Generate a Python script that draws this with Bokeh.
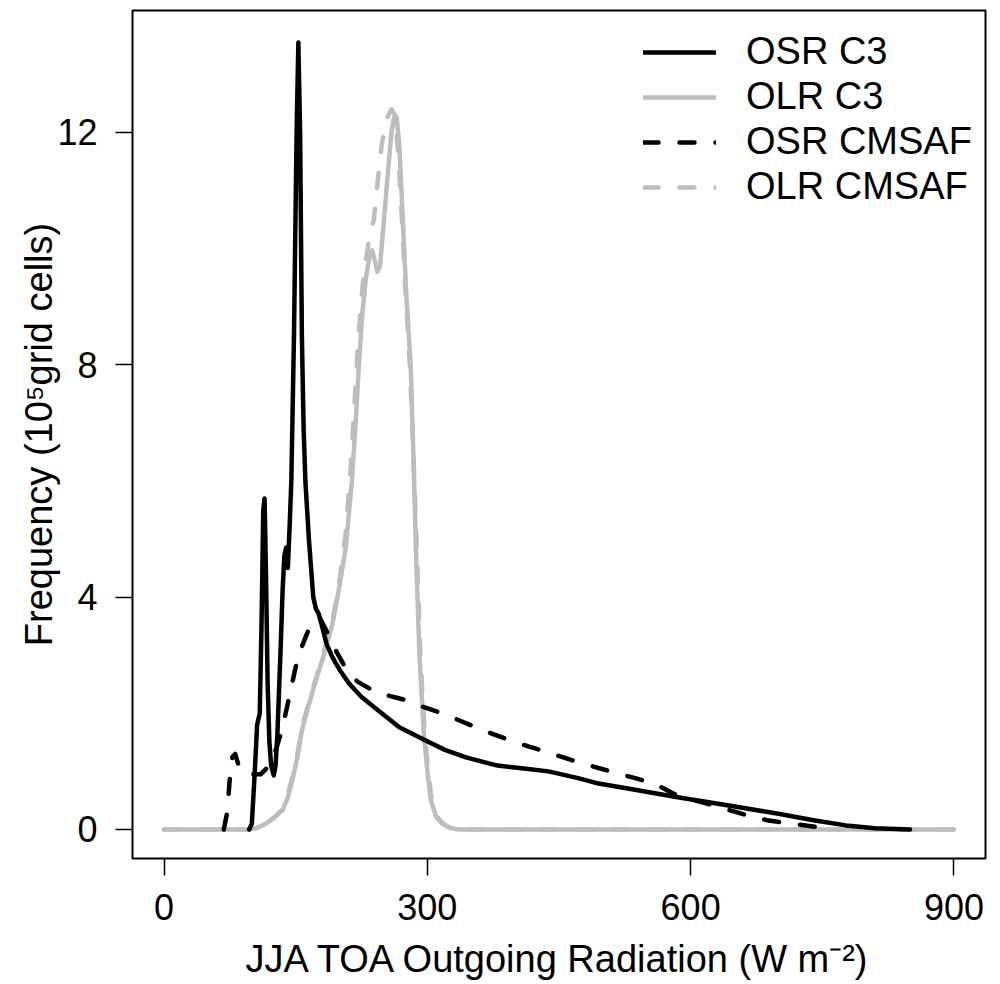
from bokeh.plotting import figure
from bokeh.models import Range1d, FixedTicker, Legend, LegendItem
from bokeh.embed import file_html
from bokeh.resources import INLINE

# ---- data ----
osr_c3_x = [97, 100, 103, 106, 109, 111, 113, 114.5, 116, 118, 120, 122, 125, 127, 129, 131, 133,
            135, 137, 139, 141, 143, 145, 148, 151, 153, 155, 157, 159, 161, 165, 170, 173, 176,
            180, 185, 192, 200, 211, 225, 248, 268, 298, 320, 344, 380, 410, 438, 473, 495, 530,
            587, 640, 700, 740, 777, 810, 850]
osr_c3_y = [0, 0.1, 0.9, 1.8, 2.0, 3.5, 5.5, 5.7, 4.5, 2.5, 1.5, 1.1, 0.93, 1.1, 1.6, 2.4, 3.2,
            4.1, 4.7, 4.85, 4.5, 5.2, 6.0, 8.5, 12.0, 13.55, 12.0, 8.5, 6.9, 6.0, 5.0, 4.0, 3.8, 3.72,
            3.5, 3.2, 2.96, 2.75, 2.51, 2.28, 2.0, 1.76, 1.53, 1.37, 1.24, 1.1, 1.05, 1.0, 0.88, 0.79, 0.7,
            0.55, 0.42, 0.27, 0.16, 0.07, 0.02, 0]

osr_cmsaf_x = [68, 72, 75, 78, 81, 85, 90, 97, 110, 120, 128, 134, 140, 145, 150, 157, 165, 172, 177,
               184, 195, 206, 220, 237, 257, 277, 297, 317, 336, 355, 375, 395, 415, 435, 455, 476,
               497, 518, 540, 560, 580, 600, 622, 645, 665, 687, 710, 731, 750, 765]
osr_cmsaf_y = [0, 0.3, 0.9, 1.25, 1.3, 1.1, 0.98, 0.95, 0.95, 1.1, 1.4, 1.7, 2.1, 2.45, 2.8, 3.15, 3.45,
               3.62, 3.65, 3.45, 3.1, 2.8, 2.55, 2.4, 2.3, 2.22, 2.1, 2.0, 1.88, 1.76, 1.64, 1.53, 1.43,
               1.34, 1.24, 1.14, 1.05, 0.96, 0.87, 0.78, 0.62, 0.52, 0.43, 0.33, 0.24, 0.16, 0.11, 0.07,
               0.03, 0.01]

olr_c3_x = [0, 95, 105, 116, 125, 135, 141, 146, 152, 157, 165, 173, 183, 192, 200, 207, 214, 219, 222,
            226, 230, 234, 237, 240, 243, 246, 250, 255, 259, 262, 265, 268, 272, 276, 281, 284, 287,
            291, 296, 300, 304, 310, 317, 325, 335, 900]
olr_c3_y = [0, 0, 0.02, 0.1, 0.2, 0.33, 0.55, 0.84, 1.25, 1.7, 2.15, 2.57, 3.05, 3.55, 4.2, 4.86, 6.0,
            7.2, 8.0, 8.9, 9.5, 9.85, 9.97, 9.8, 9.6, 9.7, 10.4, 11.3, 12.0, 12.25, 12.26, 11.8, 10.5,
            9.2, 8.0, 6.5, 4.8, 3.0, 1.65, 1.0, 0.5, 0.22, 0.1, 0.03, 0, 0]

olr_cmsaf_x = [0, 95, 105, 116, 125, 135, 141, 146, 152, 157, 165, 173, 183, 192, 200, 207, 213, 218,
               222, 227, 233, 239, 243, 248, 254, 259, 263, 267, 271, 275, 280, 284, 288, 292, 297,
               301, 305, 311, 318, 326, 336, 900]
olr_cmsaf_y = [0, 0, 0.02, 0.1, 0.2, 0.35, 0.6, 0.9, 1.3, 1.75, 2.2, 2.6, 3.1, 3.6, 4.3, 5.1, 6.3, 7.6,
               8.6, 9.5, 10.1, 10.5, 11.1, 11.8, 12.25, 12.4, 12.3, 11.6, 10.5, 9.3, 8.0, 6.5, 4.8, 3.0,
               1.65, 1.0, 0.5, 0.22, 0.1, 0.03, 0, 0]

x_ticks = [0, 300, 600, 900]
y_ticks = [0, 4, 8, 12]
series_labels = ["OSR C3", "OLR C3", "OSR CMSAF", "OLR CMSAF"]

GRAY = "#bdbdbd"
FONT = "Liberation Sans"

p = figure(width=1000, height=984, output_backend="svg", toolbar_location=None,
           x_range=Range1d(-36, 936), y_range=Range1d(-0.5, 14.1),
           min_border_left=132, min_border_right=15, min_border_top=10, min_border_bottom=126)
p.grid.visible = False
p.outline_line_color = "black"
p.outline_line_width = 2
p.background_fill_color = "white"
p.border_fill_color = "white"

for ax in (p.xaxis[0], p.yaxis[0]):
    ax.axis_line_color = None
    ax.major_tick_in = 0
    ax.major_tick_out = 17
    ax.minor_tick_in = 0
    ax.minor_tick_out = 0
    ax.major_tick_line_width = 1.5
    ax.major_tick_line_color = "black"
    ax.major_label_text_font = FONT
    ax.major_label_text_font_size = "36px"
    ax.major_label_text_color = "black"
    ax.axis_label_text_font = FONT
    ax.axis_label_text_font_size = "38px"
    ax.axis_label_text_font_style = "normal"
    ax.axis_label_text_color = "black"

p.xaxis[0].ticker = FixedTicker(ticks=x_ticks)
p.yaxis[0].ticker = FixedTicker(ticks=y_ticks)
p.xaxis[0].major_label_standoff = 18
p.yaxis[0].major_label_standoff = 18
p.xaxis[0].axis_label = "JJA TOA Outgoing Radiation (W m\u207b\u00b2)"
p.yaxis[0].axis_label = "Frequency (10\u2075grid cells)"
p.xaxis[0].axis_label_standoff = 15
p.yaxis[0].axis_label_standoff = -6

r_olr_cm = p.line(olr_cmsaf_x, olr_cmsaf_y, line_color=GRAY, line_width=4.5,
                  line_dash="15 21", line_cap="round", line_join="round")
r_olr_c3 = p.line(olr_c3_x, olr_c3_y, line_color=GRAY, line_width=4.5,
                  line_cap="round", line_join="round")
r_osr_c3 = p.line(osr_c3_x, osr_c3_y, line_color="black", line_width=4.5,
                  line_cap="round", line_join="round")
r_osr_cm = p.line(osr_cmsaf_x, osr_cmsaf_y, line_color="black", line_width=4.5,
                  line_dash="15 21", line_cap="round", line_join="round")

legend = Legend(items=[LegendItem(label=series_labels[0], renderers=[r_osr_c3]),
                       LegendItem(label=series_labels[1], renderers=[r_olr_c3]),
                       LegendItem(label=series_labels[2], renderers=[r_osr_cm]),
                       LegendItem(label=series_labels[3], renderers=[r_olr_cm])],
                location=(511, 650), glyph_width=73, glyph_height=40, label_height=40,
                label_text_font=FONT, label_text_font_size="38px", label_text_color="black",
                label_standoff=30, spacing=2, padding=0, margin=0,
                border_line_color=None, background_fill_alpha=0)
p.add_layout(legend)

open("out.html", "w").write(file_html(p, INLINE))
